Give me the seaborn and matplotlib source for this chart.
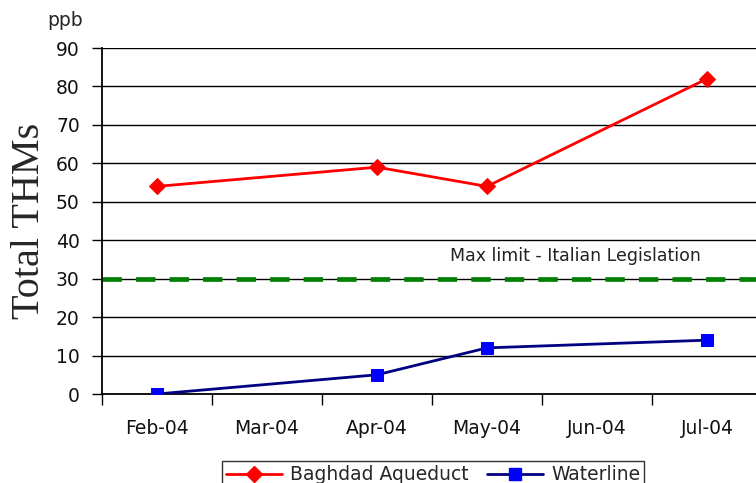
import numpy as np
import pandas as pd
from matplotlib import pyplot as plt
import seaborn as sns

# data
months = ['Feb-04', 'Mar-04', 'Apr-04', 'May-04', 'Jun-04', 'Jul-04']
baghdad = [54, None, 59, 54, None, 82]
waterline = [0, None, 5, 12, None, 14]
limit = 30
limit_label = 'Max limit - Italian Legislation'

df = pd.DataFrame({'pos': range(len(months)), 'month': months,
                   'Baghdad Aqueduct': baghdad, 'Waterline': waterline})
long = df.melt(id_vars=['pos', 'month'], var_name='series', value_name='thm').dropna()

sns.set_theme(style='white')
plt.rcParams['font.family'] = ['DejaVu Sans']

fig = plt.figure(figsize=(7.56, 4.83), dpi=100)
ax = fig.add_axes([102 / 756, 1 - 394 / 483, 660 / 756, 346 / 483])

ax.set_axisbelow(True)
for y in range(10, 100, 10):
    ax.axhline(y, color='black', lw=1.0, zorder=0)

# limit line
lim = ax.axhline(limit, color='#008000', lw=3.4, zorder=1)
lim.set_dashes([4.1, 3.0])
ax.text(3.8, limit + 5.9, limit_label, ha='center', va='center', fontsize=12.5, color='#222222')

sns.lineplot(data=long, x='pos', y='thm', hue='series', style='series',
             palette={'Baghdad Aqueduct': '#FF0000', 'Waterline': '#000080'},
             markers={'Baghdad Aqueduct': 'D', 'Waterline': 's'}, dashes=False,
             lw=2, markersize=8.5, ax=ax, zorder=3, legend=False)
for line in ax.get_lines()[-2:]:
    if line.get_color() == '#000080':
        line.set_markerfacecolor('#0000FF')
        line.set_markeredgecolor('#0000FF')
        line.set_markersize(8)
    else:
        line.set_markerfacecolor('#FF0000')
        line.set_markeredgecolor('#FF0000')

ax.set_xlim(-0.5, len(months) - 0.5)
ax.set_ylim(0, 90)
ax.set_yticks(range(0, 100, 10))
ax.set_xticks(range(len(months)))
ax.set_xticklabels(months)
ax.set_xticks(np.arange(-0.5, len(months), 1), minor=True)
ax.tick_params(axis='x', which='major', length=0, pad=18, labelsize=13.5)
ax.tick_params(axis='x', which='minor', length=8, width=1, direction='out', color='black', bottom=True)
ax.tick_params(axis='y', length=7, width=1, direction='out', color='black', left=True, labelsize=13.5, pad=9)
for lab in ax.get_xticklabels() + ax.get_yticklabels():
    lab.set_color('#111111')

for side in ['top', 'right']:
    ax.spines[side].set_visible(False)
for side in ['left', 'bottom']:
    ax.spines[side].set_color('black')
    ax.spines[side].set_linewidth(1.3)

ax.set_xlabel('')
ax.set_ylabel('Total THMs', fontsize=29, family='Liberation Serif', labelpad=6)
fig.text(65 / 756, 1 - 21 / 483, 'ppb', ha='center', va='center', fontsize=13.5)

handles = [plt.Line2D([], [], color='#FF0000', lw=2, marker='D', markersize=8.5),
           plt.Line2D([], [], color='#000080', lw=2, marker='s', markersize=8,
                      markerfacecolor='#0000FF', markeredgecolor='#0000FF')]
leg = fig.legend(handles, ['Baghdad Aqueduct', 'Waterline'], loc='upper center',
                 bbox_to_anchor=(433 / 756, 1 - 452 / 483), ncol=2, fontsize=13.5,
                 frameon=True, fancybox=False, edgecolor='black', handlelength=3.0,
                 handletextpad=0.4, columnspacing=1.0, borderpad=0.2)
leg.get_frame().set_linewidth(1.0)

fig.savefig('out.png', dpi=100)
